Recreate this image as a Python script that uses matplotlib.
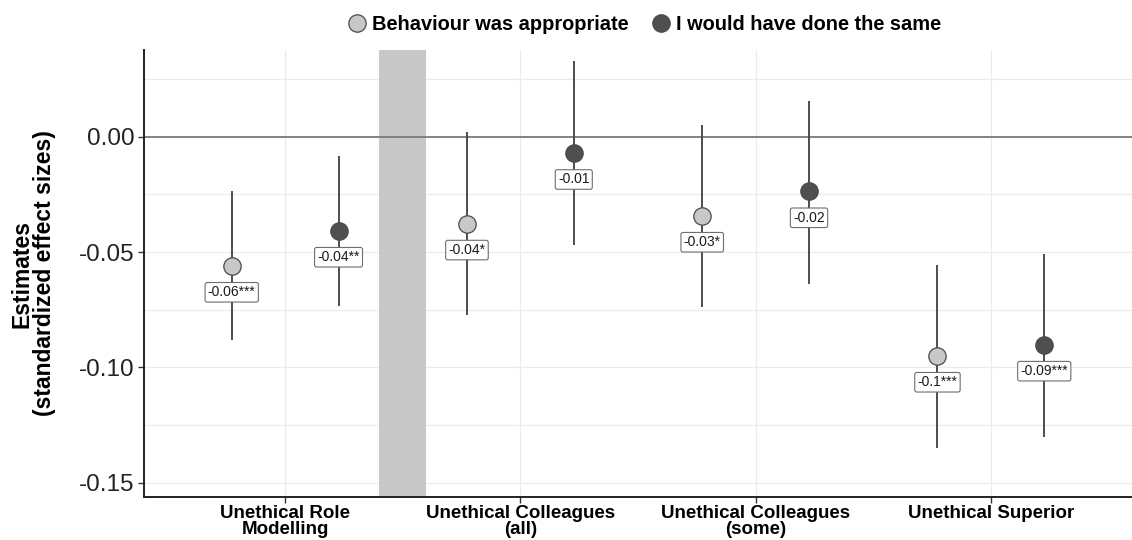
import matplotlib.pyplot as plt
import numpy as np

plt.rcParams['font.family'] = ['Liberation Sans', 'DejaVu Sans']

categories = ['Unethical Role\nModelling', 'Unethical Colleagues\n(all)',
              'Unethical Colleagues\n(some)', 'Unethical Superior']
series = ['Behaviour was appropriate', 'I would have done the same']

# estimates and 95% CIs
appropriate = [-0.056, -0.0377, -0.0343, -0.095]
appropriate_lo = [-0.088, -0.0775, -0.0739, -0.135]
appropriate_hi = [-0.0237, 0.0019, 0.0052, -0.0558]
appropriate_lab = ['-0.06***', '-0.04*', '-0.03*', '-0.1***']

same = [-0.0408, -0.0071, -0.0237, -0.0902]
same_lo = [-0.0732, -0.0468, -0.0639, -0.130]
same_hi = [-0.0082, 0.0327, 0.0153, -0.0507]
same_lab = ['-0.04**', '-0.01', '-0.02', '-0.09***']

x = np.arange(1, len(categories) + 1)
dodge = 0.227

fig = plt.figure(figsize=(11.32, 5.4), dpi=100)
ax = fig.add_axes([0.1272, 0.0796, 0.8728, 0.8278])

# grey band between the first and the other groups
ax.axvspan(1.4, 1.6, color='#c8c8c8', zorder=1, lw=0)

# grid
for yy in np.arange(-0.175, 0.05, 0.025):
    ax.axhline(yy, color='#ebebeb', lw=0.9, zorder=0)
for xx in x:
    ax.axvline(xx, color='#ebebeb', lw=0.9, zorder=0)
ax.axhline(0, color='#7a7a7a', lw=1.3, zorder=1.5)

def draw(xpos, est, lo, hi, labs, fill, name):
    ax.vlines(xpos, lo, hi, color='#4d4d4d', lw=1.4, zorder=2)
    ax.plot(xpos, est, 'o', ms=12.5, mfc=fill, mec='#4a4a4a', mew=0.9,
            zorder=3, label=name, ls='none')
    for xi, yi, t in zip(xpos, est, labs):
        ax.annotate(t, (xi, yi), xytext=(0, -19), textcoords='offset points',
                    ha='center', va='center', fontsize=10, color='#1a1a1a', zorder=4,
                    bbox=dict(boxstyle='round,pad=0.2,rounding_size=0.15',
                              fc='white', ec='#6e6e6e', lw=0.8))

draw(x - dodge, appropriate, appropriate_lo, appropriate_hi, appropriate_lab, '#c8c8c8', series[0])
draw(x + dodge, same, same_lo, same_hi, same_lab, '#4f4f4f', series[1])

ax.set_xlim(0.4, 4.6)
ax.set_ylim(-0.1562, 0.0376)
ax.set_xticks(x)
ax.set_xticklabels(categories, fontsize=13.5, fontweight='bold', linespacing=0.95)
ax.set_yticks([0.0, -0.05, -0.10, -0.15])
ax.set_yticklabels(['0.00', '-0.05', '-0.10', '-0.15'], fontsize=17.5, color='#222222')
ax.set_ylabel('Estimates\n(standardized effect sizes)', fontsize=16.5,
              fontweight='bold', linespacing=1.0, labelpad=16)
ax.tick_params(axis='both', length=4, width=1, color='#333333', pad=3)
ax.tick_params(axis='x', pad=1.5)

for s in ['top', 'right']:
    ax.spines[s].set_visible(False)
for s in ['left', 'bottom']:
    ax.spines[s].set_color('#222222')
    ax.spines[s].set_linewidth(1.4)

fig.legend(loc='upper center', bbox_to_anchor=(0.568, 1.005), ncol=2, frameon=False,
           prop={'weight': 'bold', 'size': 14.4}, handletextpad=0.15, columnspacing=1.0,
           handlelength=1.2)

fig.savefig('out.png', dpi=100)
